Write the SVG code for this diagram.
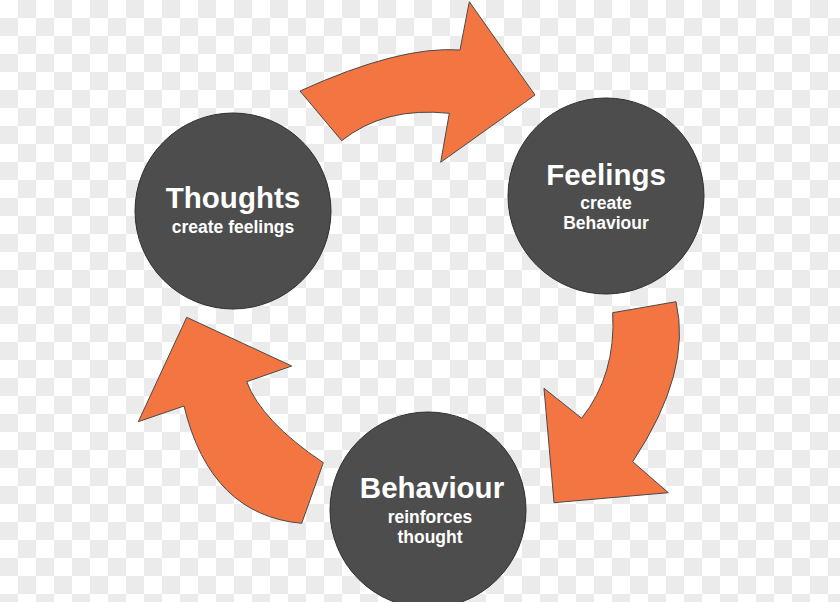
<svg xmlns="http://www.w3.org/2000/svg" width="840" height="602" viewBox="0 0 840 602">
<defs>
<pattern id="checker" x="0" y="0" width="36" height="36" patternUnits="userSpaceOnUse">
<rect width="36" height="36" fill="#ffffff"/>
<rect x="18" y="0" width="18" height="18" fill="#ebebeb"/>
<rect x="0" y="18" width="18" height="18" fill="#ebebeb"/>
</pattern>
</defs>
<style>
.arrow{fill:#f37542;stroke:#4a4a4a;stroke-width:1;stroke-linejoin:miter}
.node circle{fill:#4d4d4d;stroke:#2e2e2e;stroke-width:1}
.title{font-family:"Liberation Sans",Arial,sans-serif;font-weight:bold;font-size:29.5px;fill:#ffffff;text-anchor:middle}
.sub{font-family:"Liberation Sans",Arial,sans-serif;font-weight:bold;font-size:17.5px;fill:#ffffff;text-anchor:middle}
</style>
<rect width="840" height="602" fill="url(#checker)"/>
<g id="connectors">
<path class="arrow" d="M300,91 Q400,45.5 460,50 L469.3,1.7 L535,95 L440.7,162.3 L449.3,113.3 Q384.5,106.4 341.7,140.7 Z"/>
<path class="arrow" d="M612.7,312.7 L676,301.7 Q692.3,371.7 632.7,461.7 L668.3,492.7 L554,502.7 L544,388.3 L581.7,418.3 Q616.2,374.5 612.7,312.7 Z"/>
<path class="arrow" d="M301.7,523.3 L323.3,462.7 Q261.6,421.2 246.7,381.7 L291.7,366 L186.7,317.3 L138.3,421.7 L184,406 Q210.5,515.2 301.7,523.3 Z"/>
</g>
<g id="thoughts" class="node">
<circle cx="233" cy="211" r="98"/>
<text class="title" x="233" y="208">Thoughts</text>
<text class="sub" x="233" y="233">create feelings</text>
</g>
<g id="feelings" class="node">
<circle cx="606" cy="196" r="98"/>
<text class="title" x="606" y="185">Feelings</text>
<text class="sub" x="606" y="209">create</text>
<text class="sub" x="606" y="229">Behaviour</text>
</g>
<g id="behaviour" class="node">
<circle cx="428" cy="510" r="98"/>
<text class="title" x="432" y="498">Behaviour</text>
<text class="sub" x="430" y="523">reinforces</text>
<text class="sub" x="430" y="543">thought</text>
</g>
</svg>
